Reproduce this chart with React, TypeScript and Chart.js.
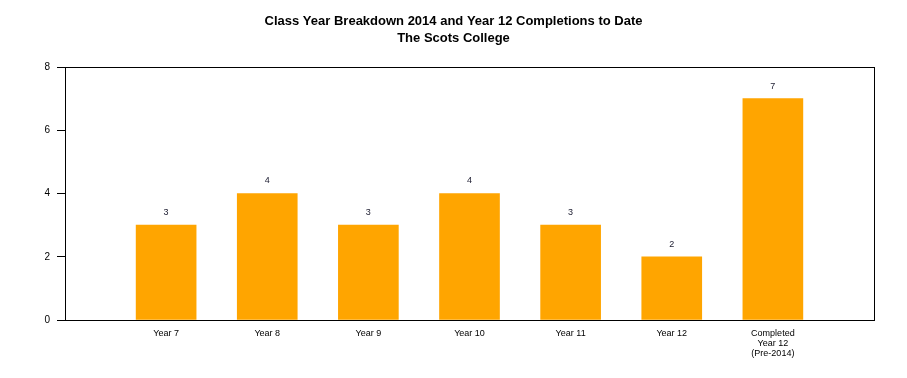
import React, { useEffect, useRef } from "react";
import { Chart, registerables } from "chart.js";

Chart.register(...registerables);

const categories: (string | string[])[] = [
  "",
  "Year 7",
  "Year 8",
  "Year 9",
  "Year 10",
  "Year 11",
  "Year 12",
  ["Completed", "Year 12", "(Pre-2014)"],
  "",
];
const studentCounts: (number | null)[] = [null, 3, 4, 3, 4, 3, 2, 7, null];
const yTicks = { min: 0, max: 8, step: 2 };
const titleLines = [
  "Class Year Breakdown 2014 and Year 12 Completions to Date",
  "The Scots College",
];

const FONT = "'Liberation Sans', Arial, sans-serif";

const boxPlugin = {
  id: "plotBox",
  afterDraw(chart: any) {
    const { ctx, chartArea } = chart;
    ctx.save();
    ctx.strokeStyle = "#000";
    ctx.lineWidth = 1;
    ctx.strokeRect(
      Math.round(chartArea.left) + 0.5,
      Math.round(chartArea.top) + 0.5,
      Math.round(chartArea.right - chartArea.left),
      Math.round(chartArea.bottom - chartArea.top)
    );
    // title centred over the full canvas
    ctx.fillStyle = "#000";
    ctx.font = `bold 13px ${FONT}`;
    ctx.textAlign = "center";
    ctx.textBaseline = "middle";
    titleLines.forEach((line, i) => {
      ctx.fillText(line, chart.width / 2, 21 + i * 17);
    });
    ctx.restore();
  },
};

const valueLabelPlugin = {
  id: "valueLabels",
  afterDatasetsDraw(chart: any) {
    const { ctx } = chart;
    const meta = chart.getDatasetMeta(0);
    const data = chart.data.datasets[0].data;
    ctx.save();
    ctx.font = `9px ${FONT}`;
    ctx.fillStyle = "#1a1a2e";
    ctx.textAlign = "center";
    ctx.textBaseline = "bottom";
    meta.data.forEach((bar: any, i: number) => {
      const v = data[i];
      if (v === null || v === undefined) return;
      ctx.fillText(String(v), bar.x, bar.y - 8);
    });
    ctx.restore();
  },
};

export default function App() {
  const ref = useRef<HTMLCanvasElement | null>(null);
  useEffect(() => {
    document.body.style.margin = "0";
    const canvas = ref.current;
    if (!canvas) return;
    const chart = new Chart(canvas, {
      type: "bar",
      data: {
        labels: categories as any,
        datasets: [
          {
            data: studentCounts,
            backgroundColor: "#FFA500",
            borderWidth: 0,
            barThickness: 60,
          },
        ],
      },
      options: {
        responsive: false,
        animation: false,
        layout: { padding: { left: 0, right: 33, top: 67, bottom: 0 } },
        plugins: {
          legend: { display: false },
          tooltip: { enabled: false },
          title: { display: false },
        },
        scales: {
          x: {
            offset: false,
            grid: { display: false },
            border: { display: false },
            ticks: {
              color: "#000",
              font: { family: FONT, size: 9, lineHeight: 1.1 },
              padding: 1,
              autoSkip: false,
              maxRotation: 0,
            },
            afterFit(scale: any) {
              scale.height = 58;
            },
          },
          y: {
            min: yTicks.min,
            max: yTicks.max,
            grid: {
              drawOnChartArea: false,
              drawTicks: true,
              tickLength: 8,
              color: "#000",
            },
            border: { display: true, color: "#000" },
            ticks: {
              stepSize: yTicks.step,
              color: "#000",
              font: { family: FONT, size: 10 },
              padding: 7,
            },
            afterFit(scale: any) {
              scale.width = 65;
            },
          },
        },
      },
      plugins: [boxPlugin, valueLabelPlugin],
    });
    return () => chart.destroy();
  }, []);
  return (
    <div style={{ width: 907, height: 378, background: "#fff" }}>
      <canvas ref={ref} width={907} height={378} />
    </div>
  );
}
